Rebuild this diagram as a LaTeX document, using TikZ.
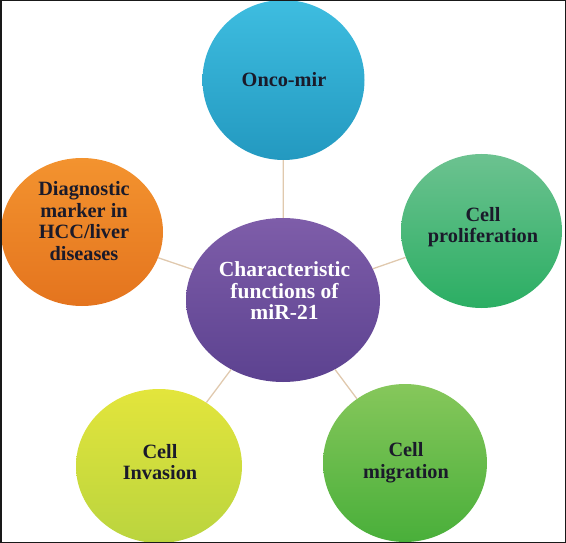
\documentclass[tikz,border=0pt]{standalone}
\usepackage{fontspec}
\setmainfont{Liberation Serif}
\usetikzlibrary{shapes.geometric}
\definecolor{txtdark}{HTML}{1A1A2A}
\definecolor{linktan}{HTML}{E0C9AE}
\definecolor{cyanT}{HTML}{3EBDE0}
\definecolor{cyanB}{HTML}{2399C0}
\definecolor{prolT}{HTML}{6CC290}
\definecolor{prolB}{HTML}{2BAE63}
\definecolor{migrT}{HTML}{86C75B}
\definecolor{migrB}{HTML}{49AF3A}
\definecolor{invaT}{HTML}{E3E53C}
\definecolor{invaB}{HTML}{BAD43E}
\definecolor{orngT}{HTML}{F3932F}
\definecolor{orngB}{HTML}{E4741E}
\definecolor{purpT}{HTML}{7E5DA9}
\definecolor{purpB}{HTML}{5C4290}
\tikzset{
  blob/.style={ellipse, inner sep=0pt, draw=none},
  outertext/.style={font=\bfseries\fontsize{20.3}{21.5}\selectfont, text=txtdark, align=center, inner sep=0pt},
  centertext/.style={font=\bfseries\fontsize{21.5}{21.5}\selectfont, text=white, align=center, inner sep=0pt},
  link/.style={draw=linktan, line width=1.3pt}
}
\begin{document}
\begin{tikzpicture}[x=1pt,y=-1pt]
\useasboundingbox (0,0) rectangle (566,543);
% circles
\node[blob, minimum width=194pt, minimum height=164pt, top color=purpT, bottom color=purpB] (c) at (283,300) {};
\node[blob, minimum width=162pt, minimum height=160pt, top color=cyanT, bottom color=cyanB] (onco) at (283.5,80) {};
\node[blob, minimum width=161pt, minimum height=154pt, top color=prolT, bottom color=prolB] (prol) at (481.5,231) {};
\node[blob, minimum width=162pt, minimum height=148pt, top color=orngT, bottom color=orngB] (diag) at (82,232) {};
\node[blob, minimum width=166pt, minimum height=154pt, top color=invaT, bottom color=invaB] (inva) at (159,466) {};
\node[blob, minimum width=164pt, minimum height=158pt, top color=migrT, bottom color=migrB] (migr) at (405,463) {};
% connectors
\draw[link] (c) -- (onco);
\draw[link] (c) -- (prol);
\draw[link] (c) -- (diag);
\draw[link] (c) -- (inva);
\draw[link] (c) -- (migr);
% texts
\node[centertext] (ct) at (284.5,291) {Characteristic\\functions of\\miR-21};
\node[outertext] (oncot) at (284,80) {Onco-mir};
\node[outertext] (prolt) at (483,227) {Cell\\proliferation};
\node[outertext] (diagt) at (84,221) {Diagnostic\\marker in\\HCC/liver\\diseases};
\node[outertext] (invat) at (160,462) {Cell\\Invasion};
\node[outertext] (migrt) at (406,462.5) {Cell\\migration};
% frame
\draw[line width=1.5pt, black!90] (0.75,0.75) rectangle (565.25,542.25);
\end{tikzpicture}
\end{document}
